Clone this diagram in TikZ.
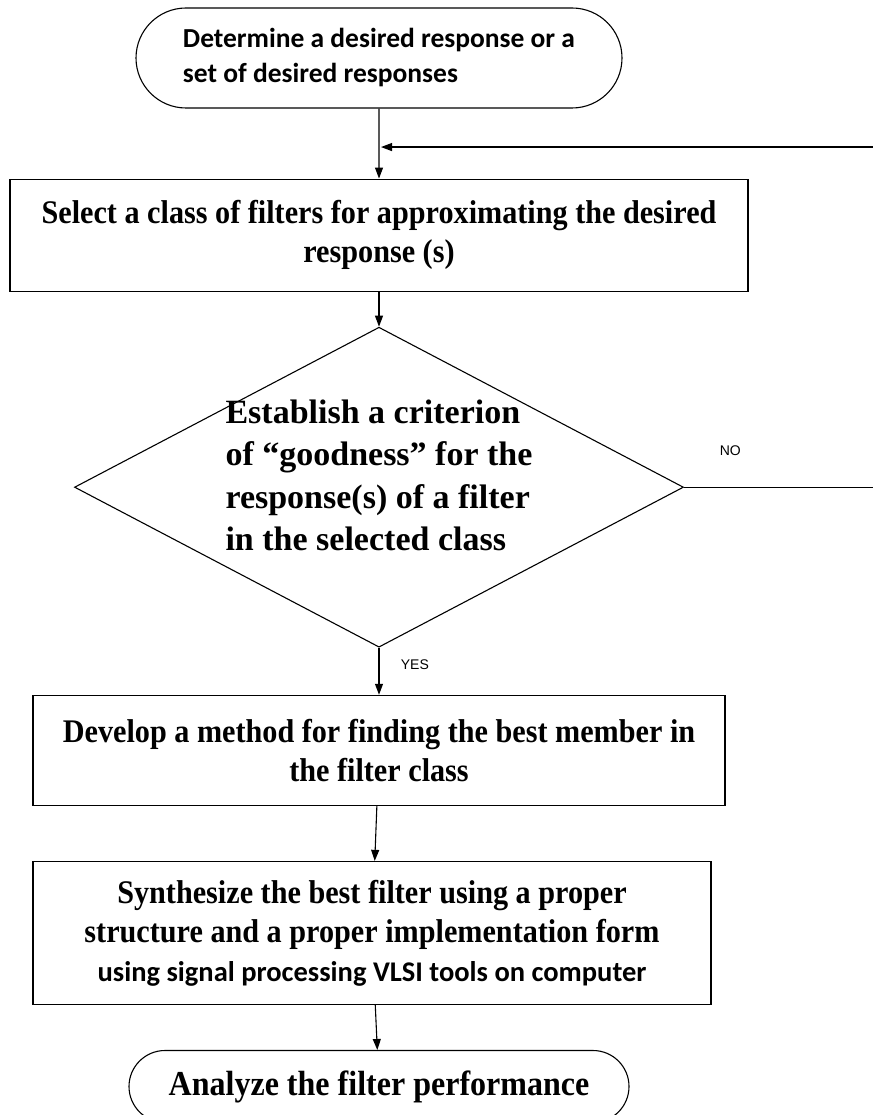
\documentclass[tikz,border=0pt]{standalone}
\usepackage{fontspec}
\setsansfont{Liberation Sans}
\newfontfamily\boxfont[FakeStretch=0.915]{Liberation Serif}
\newfontfamily\critfont{Liberation Serif}
\newfontfamily\termfont{Carlito}
\usetikzlibrary{shapes,arrows.meta,positioning,calc}

\begin{document}
\begin{tikzpicture}[
    x=1pt, y=1pt,
    node distance=40pt,
    >={Triangle[length=11pt,width=8pt]},
    every path/.style={line width=1.1pt},
    flow/.style={draw, inner sep=0pt, align=center, font=\boxfont\bfseries\fontsize{33}{39}\selectfont},
    terminal/.style={flow, rounded rectangle, minimum width=486pt},
    stepbox/.style={flow, rectangle},
    decision/.style={flow, diamond, shape aspect=1.9, inner xsep=-25pt, inner ysep=-10pt, minimum width=609pt, minimum height=320pt, align=left, font=\critfont\bfseries\fontsize{34}{42}\selectfont},
    answer/.style={font=\sffamily\fontsize{14}{16}\selectfont}
]
\useasboundingbox (0,0) rectangle (872,-1115);

\node[terminal, minimum height=100pt, align=left, font=\termfont\bfseries\fontsize{27.5}{35}\selectfont] (start) at (379,-58) {Determine a desired response or a\\set of desired responses};
\node[stepbox, below=70pt of start, minimum width=738pt, minimum height=112pt] (select) {Select a class of filters for approximating the desired\\response (s)};
\node[decision, below=35pt of select] (crit) {Establish a criterion\\of “goodness” for the\\response(s) of a filter\\in the selected class\\[-18pt]\mbox{}};
\node[stepbox, below=47pt of crit, minimum width=692pt, minimum height=110pt] (method) {Develop a method for finding the best member in\\the filter class};
\node[stepbox, below=55pt of method, xshift=-7pt, minimum width=678pt, minimum height=143pt] (synth) {Synthesize the best filter using a proper\\structure and a proper implementation form\\{\termfont\fontsize{28.5}{39}\selectfont using signal processing VLSI tools on computer}};
\node[terminal, below=45pt of synth, xshift=7pt, minimum width=500pt, minimum height=72pt, font=\boxfont\bfseries\fontsize{35}{39}\selectfont] (analyze) {Analyze the filter performance};

% loop back when the criterion fails
\coordinate (join) at ($(start.south)!0.55!(select.north)$);
\coordinate (loop) at ([xshift=210pt]crit.east);

\draw[->] (start) -- (select);
\draw[->] (select) -- (crit);
\draw[->] (crit) -- node[answer, pos=0.35, right=18pt] {YES} (method);
\draw[->] (method) -- (synth);
\draw[->] (synth) -- (analyze);
\draw[->, shorten >=2pt] (crit.east) -- node[answer, pos=0.22, above=28pt] {NO} (loop) |- (join);

\end{tikzpicture}
\end{document}
